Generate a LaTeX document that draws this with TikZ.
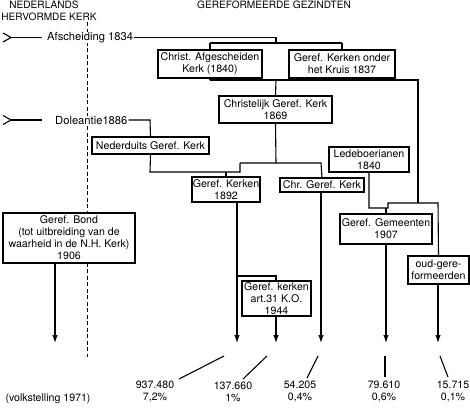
\documentclass[tikz,border=0pt]{standalone}
\usepackage{fontspec}
\setmainfont{TeX Gyre Heros}
\usetikzlibrary{arrows.meta}
\begin{document}
\begin{tikzpicture}[x=1pt,y=-1pt,
  txt/.style={font=\fontsize{10.6}{12}\selectfont, inner sep=0pt, align=center},
  hdr/.style={txt, font=\fontsize{10.1}{12}\selectfont},
  lbl/.style={txt, font=\fontsize{11.2}{12}\selectfont, fill=white, inner xsep=1pt},
  box/.style={txt, draw, fill=white, line width=1.3pt, minimum width=#1},
  ln/.style={line width=1.1pt},
  arr/.style={ln, -{Latex[length=8pt,width=5.5pt]}},
  lead/.style={line width=1.1pt},
  ]
\useasboundingbox (0,0) rectangle (470,407);
% headers
\node[hdr] (hnl1) at (44,5) {NEDERLANDS};
\node[hdr] (hnl2) at (49,16.5) {HERVORMDE KERK};
\node[hdr] (hgg) at (274,5) {GEREFORMEERDE GEZINDTEN};
% dashed divider
\coordinate (dtop) at (87,22);
\coordinate (dbot) at (87,357);
\draw[line width=1pt, dash pattern=on 4pt off 2.5pt] (dtop) -- (dbot);
% event labels
\node[lbl, anchor=west] (afs) at (46,37.5) {Afscheiding 1834};
\node[lbl, anchor=west] (dol) at (54,120) {Doleantie1886};
\coordinate (c1a) at (3,33); \coordinate (c1t) at (11,37.5); \coordinate (c1b) at (3,42); \coordinate (c1e) at (42,37.5);
\draw[ln] (c1a) -- (c1t) -- (c1b); \draw[ln] (c1t) -- (c1e);
\coordinate (c2a) at (3,115.5); \coordinate (c2t) at (11,120); \coordinate (c2b) at (3,124.5); \coordinate (c2e) at (42,120);
\draw[ln] (c2a) -- (c2t) -- (c2b); \draw[ln] (c2t) -- (c2e);
% boxes
\node[box=104pt, minimum height=28pt] (afg) at (210,64) {Christ. Afgescheiden\\Kerk (1840)};
\node[box=106pt, minimum height=28pt] (kruis) at (342,64) {Geref. Kerken onder\\het Kruis 1837};
\node[box=113pt, minimum height=27pt] (cgk) at (275.5,109.5) {Christelijk Geref. Kerk\\1869};
\node[box=117pt, minimum height=17pt] (ndgk) at (150.5,145.5) {Nederduits Geref. Kerk};
\node[box=80pt, minimum height=25pt] (led) at (369,159.5) {Ledeboerianen\\1840};
\node[box=68pt, minimum height=25pt] (gk) at (226,189.5) {Geref. Kerken\\1892};
\node[box=84pt, minimum height=14pt] (cgk2) at (322,185) {Chr. Geref. Kerk};
\node[box=132pt, minimum height=50pt] (bond) at (69,238) {Geref. Bond\\(tot uitbreiding van de\\waarheid in de N.H. Kerk)\\1906};
\node[box=92pt, minimum height=30pt] (gg) at (386,229) {Geref. Gemeenten\\1907};
\node[box=69pt, minimum height=35pt] (art) at (276.5,298.5) {Geref. kerken\\art.31 K.O.\\1944};
\node[box=61pt, minimum height=28pt] (oud) at (438.5,270) {oud-gere-\\formeerden};
% connectors top
\coordinate (j1) at (276,37.5); \coordinate (j2) at (276,43);
\coordinate (j3) at (210,43); \coordinate (j4) at (342,43);
\draw[ln] (afs.east) -- (j1) -- (j2);
\draw[ln] (j3) -- (j4);
\draw[ln] (j3) -- (afg.north);
\draw[ln] (j4) -- (kruis.north);
% merge 1869
\coordinate (m1) at (210,80); \coordinate (m2) at (342,80); \coordinate (m3) at (276,80); \coordinate (m4) at (418,80);
\coordinate (m5) at (418,203);
\draw[ln] (afg.south) -- (m1);
\draw[ln] (kruis.south) -- (m2);
\draw[ln] (m1) -- (m4) -- (m5);
\draw[ln] (m3) -- (cgk.north);
% doleantie
\coordinate (d1) at (150,120);
\draw[ln] (dol.east) -- (d1) -- (ndgk.north);
\coordinate (d2) at (150,172); \coordinate (d3) at (240,172); \coordinate (d4) at (240,163);
\coordinate (d5) at (276,163); \coordinate (d6) at (321,163); \coordinate (d7) at (226,172);
\draw[ln] (ndgk.south) -- (d2) -- (d3) -- (d4);
\draw[ln] (cgk.south) -- (d5);
\draw[ln] (d4) -- (d6) -- (cgk2.north);
\draw[ln] (d7) -- (gk.north);
% ledeboerianen / gemeenten
\coordinate (e1) at (369,208); \coordinate (e2) at (388,208); \coordinate (e3) at (386,208);
\coordinate (e4) at (388,203); \coordinate (e5) at (438,203);
\draw[ln] (led.south) -- (e1) -- (e2) -- (e4) -- (e5) -- (oud.north);
\draw[ln] (e3) -- (gg.north);
% down arrows
\coordinate (a0) at (55,343);
\coordinate (g1) at (237,202); \coordinate (a1) at (237,343);
\coordinate (g2) at (237,276); \coordinate (g3) at (276,276);
\coordinate (a2) at (276,343);
\coordinate (a3) at (321,343);
\coordinate (a4) at (386,343);
\coordinate (a5) at (438,343);
\draw[arr] (bond.south -| a0) -- (a0);
\draw[arr] (g1) -- (a1);
\draw[ln] (g2) -- (g3) -- (art.north -| g3);
\draw[arr] (art.south -| a2) -- (a2);
\draw[arr] (cgk2.south -| a3) -- (a3);
\draw[arr] (gg.south -| a4) -- (a4);
\draw[arr] (oud.south -| a5) -- (a5);
% figures
\node[txt] (n1) at (155,392) {937.480\\7,2\%};
\node[txt] (n2) at (233,392) {137.660\\1\%};
\node[txt] (n3) at (300,392) {54.205\\0,4\%};
\node[txt] (n4) at (384,392) {79.610\\0,6\%};
\node[txt] (n5) at (453,392) {15.715\\0,1\%};
\node[txt] (vk) at (48,398.5) {(volkstelling 1971)};
% leader lines
\coordinate (l1a) at (224,356); \coordinate (l1b) at (179,379);
\coordinate (l2a) at (267,356); \coordinate (l2b) at (243,379);
\coordinate (l3a) at (318,356); \coordinate (l3b) at (307,378);
\coordinate (l4a) at (385,356); \coordinate (l4b) at (385,377);
\coordinate (l5a) at (440,356); \coordinate (l5b) at (448,377);
\draw[lead] (l1a) -- (l1b);
\draw[lead] (l2a) -- (l2b);
\draw[lead] (l3a) -- (l3b);
\draw[lead] (l4a) -- (l4b);
\draw[lead] (l5a) -- (l5b);
\end{tikzpicture}
\end{document}
